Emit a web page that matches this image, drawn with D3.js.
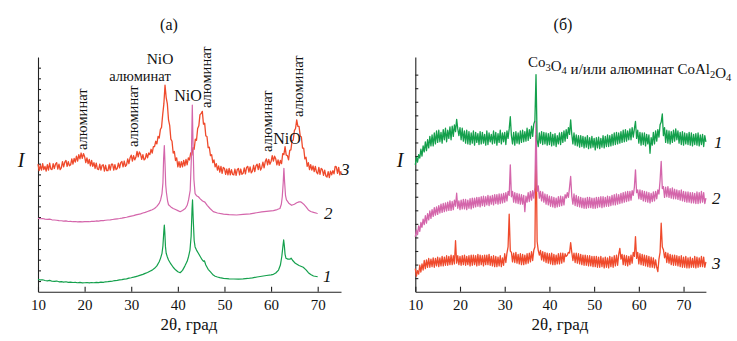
<!DOCTYPE html>
<html><head><meta charset="utf-8">
<script src="https://cdn.jsdelivr.net/npm/d3@7/dist/d3.min.js"></script>
<style>body{margin:0;background:#fff}svg{display:block}svg text{font-family:"Liberation Serif","Times New Roman",serif !important;fill:#111}</style>
</head><body>
<script>
// ---------- DATA ----------
const xTicks = [10,20,30,40,50,60,70];
const xLabel = "2θ, град";
const yLabel = "I";
const titleA = "(а)", titleB = "(б)";
const curveLabels = ["1","2","3"];
// Panel (a) curve 1 (green): [2θ, I]
const a1 = [[10,1.16],[10.5,1.10],[11,1.12],[11.5,1.05],[12,1.02],[12.5,1.06],[13,0.98],[13.5,0.97],[14,1.0],[14.5,0.93],[15,0.94],[15.5,0.9],[16,0.93],[16.5,0.87],[17,0.9],[17.5,0.86],[18,0.88],[18.5,0.84],[19,0.87],[19.5,0.83],[20,0.84],[20.5,0.86],[21,0.82],[21.5,0.86],[22,0.84],[22.5,0.88],[23,0.85],[23.5,0.9],[24,0.88],[24.5,0.93],[25,0.94],[25.5,0.97],[26,1.0],[26.5,1.04],[27,1.06],[27.5,1.1],[28,1.13],[28.5,1.18],[29,1.2],[29.5,1.27],[30,1.31],[30.5,1.36],[31,1.42],[31.5,1.48],[32,1.55],[32.5,1.62],[33,1.72],[33.5,1.8],[34,1.92],[34.5,2.02],[35,2.19],[35.5,2.42],[36,2.81],[36.3,3.15],[36.6,3.6],[36.8,4.3],[37.0,5.7],[37.1,6.25],[37.2,5.6],[37.35,4.2],[37.5,3.6],[37.75,3.25],[38,2.97],[38.5,2.6],[39,2.29],[39.5,2.05],[40,1.87],[40.5,1.78],[41,2.0],[41.5,2.4],[42,2.85],[42.3,3.3],[42.6,3.9],[42.85,5.2],[43.05,7.8],[43.15,8.6],[43.3,6.8],[43.5,4.8],[43.7,4.2],[44,3.9],[44.4,3.6],[44.8,3.3],[45.2,3.0],[45.5,2.85],[45.7,2.9],[46,2.5],[46.5,2.1],[47,1.85],[47.6,1.56],[48,1.45],[48.5,1.38],[49,1.32],[49.8,1.25],[50.5,1.22],[51,1.2],[52,1.19],[53,1.18],[54,1.2],[55,1.24],[56,1.3],[57,1.38],[58,1.45],[59,1.52],[60,1.58],[60.5,1.63],[61,1.75],[61.6,2.03],[62,2.5],[62.3,3.3],[62.55,4.3],[62.7,4.85],[62.85,4.3],[63.0,3.5],[63.2,3.13],[63.6,3.05],[64.1,3.06],[64.3,3.15],[64.6,2.95],[65.2,2.66],[66,2.45],[66.9,2.29],[67.5,2.05],[68,1.78],[68.5,1.62],[69.1,1.47],[70,1.4]];
// Panel (a) curve 2 (pink)
const a2 = [[10,6.88],[10.5,6.84],[11,6.86],[11.5,6.8],[12,6.78],[12.5,6.8],[13,6.74],[13.5,6.72],[14,6.7],[14.5,6.66],[15,6.65],[15.5,6.62],[16,6.64],[16.5,6.58],[17,6.6],[17.5,6.56],[18,6.58],[18.5,6.55],[19,6.57],[19.5,6.54],[20,6.56],[20.5,6.58],[21,6.56],[21.5,6.6],[22,6.59],[22.5,6.63],[23,6.62],[23.5,6.66],[24,6.67],[24.5,6.7],[25,6.72],[25.5,6.74],[26,6.77],[26.5,6.8],[27,6.83],[27.5,6.86],[28,6.9],[28.5,6.95],[29,6.98],[29.5,7.04],[30,7.09],[30.5,7.13],[31,7.2],[31.5,7.25],[32,7.3],[32.5,7.38],[33,7.44],[33.5,7.52],[34,7.6],[34.5,7.68],[35,7.8],[35.5,8.0],[36,8.28],[36.3,8.6],[36.6,9.2],[36.8,10.2],[36.95,12.5],[37.1,13.7],[37.25,12.0],[37.4,10.0],[37.55,9.3],[37.8,8.5],[38,8.15],[38.5,7.95],[39,7.8],[39.5,7.7],[40,7.6],[40.5,7.5],[41,7.62],[41.6,7.8],[42,8.1],[42.3,8.6],[42.65,9.5],[42.9,12.5],[43.1,17.5],[43.25,14.0],[43.45,10.5],[43.7,9.2],[44,9.0],[44.4,8.9],[44.8,8.7],[45.3,8.5],[45.8,8.4],[46.3,8.1],[46.9,7.8],[47.6,7.5],[48.5,7.38],[49.8,7.28],[51,7.22],[52.6,7.19],[54,7.24],[55.5,7.3],[56.9,7.4],[58,7.48],[59,7.53],[60.5,7.6],[61.3,7.7],[61.9,7.8],[62.2,8.2],[62.4,8.9],[62.6,10.2],[62.75,11.56],[62.9,10.3],[63.1,9.0],[63.3,8.6],[63.8,8.3],[64.4,8.1],[65,8.2],[65.5,8.34],[66,8.42],[66.3,8.43],[66.6,8.35],[67,8.2],[67.5,7.95],[68,7.66],[68.5,7.52],[69.1,7.44],[69.8,7.35],[70,7.33]];
// Panel (a) curve 3 (red), measured every 0.25° from 10° to 75°
const a3 = [
11.95,11.35,11.85,11.4, 12.0,11.45,11.75,11.3, 11.9,11.4,12.05,11.5, 11.45,12.0,11.55,11.95, 12.1,11.5,11.95,11.45,
11.6,12.2,11.7,12.15, 12.3,11.75,12.2,11.8, 11.9,12.45,11.95,12.5, 12.15,12.7,12.25,12.85, 12.45,13.0,12.5,12.95,
12.65,12.1,12.55,12.0, 12.4,11.8,12.3,11.75, 12.1,11.55,12.05,11.5, 11.45,11.95,11.4,11.85, 11.9,11.3,11.85,11.35,
11.35,11.9,11.4,11.95, 11.95,11.4,11.9,11.45, 11.55,12.05,11.6,12.1, 12.2,11.7,12.25,11.75, 11.9,12.45,12.0,12.55,
12.8,12.25,12.75,12.35, 12.6,13.15,12.65,13.1, 12.9,12.4,12.85,12.35, 12.45,12.95,12.55,13.0, 12.85,13.35,13.0,13.6,
13.6,14.1,13.85,14.55, 14.4,15.2,15.4,16.6, 17.6,19.35,18.2,17.6, 16.1,15.6,14.3,14.1, 13.0,13.15,12.3,12.55,
11.7,12.2,11.65,12.2, 11.7,12.3,11.8,12.4, 11.9,12.55,12.35,13.0, 12.8,13.5,13.35,14.3, 14.2,15.3,15.55,16.6,
16.7,16.9,15.7,15.8, 14.6,14.55,13.5,13.55, 12.75,12.85,12.1,12.35, 11.7,12.0,11.4,11.8, 11.2,11.75,11.1,11.65,
11.55,11.0,11.5,10.95, 11.55,10.95,11.45,11.0, 10.95,11.5,10.9,11.45, 11.55,10.95,11.5,11.0, 11.1,11.6,11.05,11.65,
11.75,11.2,11.7,11.15, 11.3,11.85,11.25,11.8, 11.95,11.45,12.0,11.4, 11.65,12.15,11.6,12.2, 12.45,11.9,12.4,11.95,
12.2,12.75,12.25,12.7, 12.45,11.9,12.35,11.85, 12.3,12.0,12.95,12.85, 13.6,12.8,12.75,12.35, 13.25,13.3,14.15,14.2,
15.1,15.3,16.1,15.5, 15.5,14.6,14.5,13.45, 13.45,12.45,12.6,11.75, 12.1,11.45,11.9,11.4, 11.8,11.25,11.75,11.2,
11.05,11.65,11.0,11.55, 11.45,10.9,11.4,10.85, 10.75,11.25,10.7,11.3, 10.95,11.35,11.05,11.75, 11.7,11.1,11.65,10.95,
11.3];
// Panel (б) curves, measured every 0.25° from 10° to 75°
const b1 = [
9.35,9.9,9.55,10.1, 9.85,10.5,10.0,10.75, 10.3,11.05,10.4,11.2, 10.6,11.45,10.75,11.55, 10.75,11.7,10.9,11.85,
11.0,11.9,11.05,11.75, 10.95,11.95,11.2,12.05, 11.05,11.9,11.3,12.15, 11.2,12.2,11.45,12.3, 11.8,12.7,12.0,11.5,
12.1,11.2,12.05,11.1, 11.85,10.95,11.9,10.9, 11.8,10.85,11.7,10.95, 11.85,10.8,11.75,11.0, 11.65,10.85,11.8,10.9,
11.75,10.95,11.6,10.8, 11.85,10.85,11.7,11.05, 11.6,10.9,11.85,10.95, 11.75,10.8,11.65,11.0, 11.9,10.9,11.7,11.05,
11.75,10.85,11.85,11.3, 12.0,12.9,11.5,10.9, 11.75,10.8,11.8,10.95, 11.7,10.9,11.85,11.0, 11.9,11.05,11.8,11.1,
12.05,11.15,11.95,11.3, 12.2,11.45,12.35,12.6, 16.0,11.2,10.7,11.7, 10.95,11.8,10.85,11.75, 10.9,11.7,10.8,11.65,
10.85,11.75,10.75,11.6, 10.8,11.65,10.7,11.5, 10.9,11.7,10.85,11.75, 11.0,11.85,11.1,11.95, 11.3,12.1,11.6,12.67,
11.6,10.9,11.7,10.8, 11.55,10.75,11.5,10.65, 11.5,10.7,11.45,10.6, 11.4,10.65,11.5,10.55, 11.35,10.6,11.45,10.65,
11.3,10.45,11.35,10.6, 11.4,10.55,11.3,10.65, 11.5,10.6,11.45,10.7, 11.55,10.7,11.5,10.75, 11.6,10.8,11.7,10.85,
11.75,10.9,11.7,10.95, 11.8,11.0,11.9,11.05, 11.95,11.1,11.85,11.2, 12.0,11.2,12.1,11.4, 12.0,12.55,11.3,11.9,
10.95,11.75,10.8,11.7, 10.85,11.7,10.75,11.6, 10.9,11.55,10.2,11.35, 10.8,11.75,10.9,11.85, 11.1,11.95,11.4,12.3,
12.5,13.1,11.5,12.1, 11.0,11.9,10.95,11.85, 10.9,11.8,11.0,11.9, 11.1,12.0,11.2,11.85, 10.95,11.75,10.85,11.8,
10.8,11.7,10.9,11.65, 10.85,11.75,10.8,11.7, 10.75,11.6,10.85,11.65, 10.8,11.7,10.75,11.55, 10.85,11.6,10.7,11.5,
11.05];
const b2 = [
4.05,4.55,4.2,4.85, 4.45,5.1,4.75,5.35, 4.95,5.6,5.05,5.75, 5.3,5.95,5.4,6.05, 5.55,6.2,5.65,6.25,
5.7,6.35,5.8,6.45, 5.85,6.5,5.9,6.55, 5.95,6.6,6.0,6.7, 6.0,6.65,6.05,6.75, 6.3,7.26,6.15,6.7,
6.05,6.75,6.1,6.8, 6.1,6.8,6.05,6.75, 6.15,6.85,6.1,6.9, 6.2,6.9,6.25,6.95, 6.3,6.95,6.25,7.0,
6.35,7.05,6.3,7.0, 6.4,7.1,6.35,7.05, 6.45,7.1,6.4,7.15, 6.5,7.15,6.45,7.2, 6.5,7.2,6.55,7.25,
6.6,7.3,6.7,7.4, 7.1,9.35,7.0,7.4, 6.6,7.3,6.55,7.25, 6.5,7.2,6.45,7.15, 6.45,7.1,5.9,7.05,
6.6,7.3,6.65,7.4, 6.75,7.45,6.9,7.7, 12.55,7.4,7.8,6.9, 7.4,6.7,7.35,6.6, 7.2,6.45,7.15,6.4,
7.05,6.3,7.0,6.25, 6.95,6.2,6.9,6.25, 7.0,6.3,7.05,6.35, 7.0,6.4,7.15,6.9, 7.3,6.95,7.7,8.49,
7.05,6.45,7.2,6.35, 7.1,6.3,7.0,6.25, 6.95,6.2,6.9,6.15, 6.9,6.15,6.95,6.2, 6.95,6.2,6.9,6.15,
6.9,6.15,6.95,6.2, 6.95,6.25,7.0,6.2, 7.0,6.25,6.95,6.3, 7.05,6.3,7.0,6.35, 7.1,6.4,7.15,6.4,
7.2,6.45,7.15,6.5, 7.25,6.55,7.3,6.6, 7.35,6.65,7.4,6.7, 7.4,6.75,7.45,7.1, 7.7,8.98,7.3,7.5,
6.85,7.5,6.8,7.45, 6.7,7.4,6.65,7.35, 6.6,7.3,6.55,7.25, 6.65,7.35,6.7,7.4, 6.85,7.5,7.2,8.2,
9.6,7.6,7.75,6.95, 7.7,7.0,7.75,6.95, 7.6,6.9,7.65,6.85, 7.55,6.85,7.5,6.8, 7.45,6.75,7.5,6.7,
7.4,6.65,7.35,6.6, 7.35,6.6,7.3,6.55, 7.3,6.55,7.25,6.5, 7.35,6.5,7.3,6.55, 7.4,6.6,7.3,6.5,
6.9];
const b3 = [
1.7,1.15,1.55,1.3, 1.95,1.45,2.05,1.6, 2.3,1.7,2.35,1.8, 2.45,1.8,2.4,1.85, 2.5,1.8,2.45,1.9,
2.55,1.85,2.5,1.9, 2.6,1.9,2.55,1.95, 2.65,1.95,2.6,2.0, 2.7,2.0,2.65,2.05, 3.76,2.1,2.65,2.0,
2.6,1.95,2.65,2.0, 2.7,1.95,2.6,2.0, 2.65,1.9,2.7,1.95, 2.7,2.0,2.65,1.9, 2.75,1.95,2.7,2.0,
2.65,1.9,2.7,2.0, 2.7,2.0,2.75,1.95, 2.6,1.9,2.65,1.85, 2.6,1.85,2.55,1.9, 2.65,1.85,2.5,1.95,
2.8,2.15,2.85,3.3, 5.71,3.0,2.9,2.2, 2.85,2.15,2.9,2.1, 2.75,2.05,2.8,2.0, 2.75,2.0,2.7,2.05,
2.8,2.1,2.85,2.2, 2.95,2.3,3.05,3.3, 11.5,3.7,3.05,2.7, 3.05,2.35,2.95,2.25, 2.9,2.15,2.85,2.1,
2.8,2.05,2.85,2.0, 2.75,2.0,2.7,2.05, 2.8,2.05,2.85,2.1, 2.85,2.2,2.8,2.6, 2.7,2.9,2.85,3.62,
2.9,2.3,2.85,2.15, 2.85,2.1,2.8,2.05, 2.75,2.0,2.7,1.95, 2.7,1.95,2.65,1.9, 2.65,1.9,2.6,1.85,
2.6,1.85,2.6,1.8, 2.55,1.8,2.6,1.85, 2.5,1.75,2.55,1.8, 2.5,1.75,2.6,1.85, 2.55,1.8,2.65,1.9,
2.7,1.95,2.75,3.2, 2.4,2.75,2.0,2.7, 1.95,2.65,1.9,2.6, 2.0,2.7,2.1,2.9, 2.6,4.06,2.45,2.9,
2.05,2.8,2.0,2.75, 1.95,2.7,1.9,2.65, 1.85,2.6,1.8,2.55, 1.8,2.5,1.75,2.35, 1.8,1.48,2.4,2.9,
5.05,3.3,3.1,2.5, 2.9,2.15,2.85,2.1, 2.75,2.0,2.7,1.95, 2.7,1.95,2.65,1.9, 2.6,1.85,2.65,1.8,
2.55,1.8,2.6,1.75, 2.5,1.75,2.55,1.8, 2.45,1.8,2.6,1.75, 2.55,1.8,2.5,1.85, 2.6,1.85,2.55,1.8,
2.2];
const stepAngles = d3.range(261).map(i => 10 + i * 0.25);

// ---------- DRAW ----------
const W = 737, H = 341;
const svg = d3.select("body").append("svg").attr("width", W).attr("height", H);
svg.append("rect").attr("width", W).attr("height", H).attr("fill", "#fff");

const colors = { green: "#14a04c", pink: "#d466ab", red: "#ef4a2c" };

function panel(cfg) {
  const x = d3.scaleLinear([10, 75], cfg.xr);
  const y = d3.scaleLinear([0, cfg.ymax], [291.7, 57]);
  const g = svg.append("g");
  const xa = g.append("g").attr("transform", "translate(0,291.7)")
    .call(d3.axisBottom(x).tickValues(xTicks).tickSizeInner(-5).tickSizeOuter(0).tickPadding(8).tickFormat(d3.format("d")));
  xa.attr("font-family", null);
  xa.selectAll("text").attr("font-size", 15).attr("fill", "#111");
  xa.selectAll("line,path").attr("stroke", "#222").attr("stroke-width", 1.1);
  const ya = g.append("g").attr("transform", `translate(${cfg.xr[0]},0)`)
    .call(d3.axisLeft(y).tickValues(d3.range(1, Math.floor(cfg.ymax))).tickSizeInner(-3).tickSizeOuter(0).tickFormat(""));
  ya.selectAll("line,path").attr("stroke", "#222").attr("stroke-width", 1.1);

  const line = d3.line().x(d => x(d[0])).y(d => y(d[1]));
  cfg.series.forEach(s => {
    g.append("path").attr("d", line(s.data)).attr("fill", "none")
      .attr("stroke", s.color).attr("stroke-width", s.w || 1.2).attr("stroke-linejoin", "round");
  });
  g.append("text").attr("x", cfg.titleX).attr("y", 30).attr("text-anchor", "middle").attr("font-size", 16).text(cfg.title);
  g.append("text").attr("x", cfg.xLabelX).attr("y", 330).attr("text-anchor", "middle").attr("font-size", 17).text(xLabel);
  g.append("text").attr("x", cfg.yLabelX).attr("y", 167).attr("text-anchor", "middle").attr("font-size", 20).attr("font-style", "italic").text(yLabel);
  cfg.nums.forEach(n => g.append("text").attr("x", n.x).attr("y", n.y).attr("font-size", 17).attr("font-style", "italic").text(n.t));
  return { g, x, y };
}

const zipA = arr => arr.map((v, i) => [stepAngles[i], v]);

const pa = panel({
  xr: [38, 341], ymax: 22, title: titleA, titleX: 169, xLabelX: 189, yLabelX: 21,
  series: [
    { data: zipA(a3), color: colors.red, w: 1.3 },
    { data: a1, color: colors.green },
    { data: a2, color: colors.pink }
  ],
  nums: [{ t: curveLabels[2], x: 341, y: 175 }, { t: curveLabels[1], x: 324, y: 219 }, { t: curveLabels[0], x: 323, y: 282 }]
});

const pb = panel({
  xr: [415.3, 705.9], ymax: 17.3, title: titleB, titleX: 563, xLabelX: 560, yLabelX: 400,
  series: [
    { data: zipA(b3), color: colors.red, w: 1.3 },
    { data: zipA(b2), color: colors.pink, w: 1.3 },
    { data: zipA(b1), color: colors.green, w: 1.3 }
  ],
  nums: [{ t: curveLabels[0], x: 714, y: 148 }, { t: curveLabels[1], x: 712, y: 204 }, { t: curveLabels[2], x: 712, y: 269 }]
});

// Annotations panel (a)
const alum = "алюминат";
const rotAnn = [[19.66, 150], [30.8, 147], [46.3, 108], [59.4, 152], [66.2, 117]];
rotAnn.forEach(([ang, yb]) => {
  const xx = pa.x(ang) + 3.5;
  pa.g.append("text").attr("transform", `translate(${xx},${yb}) rotate(-90)`).attr("font-size", 14.5).text(alum);
});
pa.g.append("text").attr("x", 160).attr("y", 64).attr("text-anchor", "middle").attr("font-size", 15.5).text("NiO");
pa.g.append("text").attr("x", 140).attr("y", 80.5).attr("text-anchor", "middle").attr("font-size", 14.5).text(alum);
pa.g.append("text").attr("x", 188).attr("y", 101).attr("text-anchor", "middle").attr("font-size", 16).text("NiO");
pa.g.append("text").attr("x", 287).attr("y", 144).attr("text-anchor", "middle").attr("font-size", 16).text("NiO");

// Annotation panel (б)
const ann = pb.g.append("text").attr("x", 528).attr("y", 67).attr("font-size", 15);
const parts = [["Co",0],["3",1],["O",0],["4",1],[" и/или алюминат CoAl",0],["2",1],["O",0],["4",1]];
parts.forEach(([t, sub]) => {
  ann.append("tspan").attr("font-size", sub ? 10.5 : 15).attr("dy", sub ? 3.5 : null).text(t);
  if (sub) ann.append("tspan").attr("dy", -3.5).text("");
});
</script>
</body></html>
